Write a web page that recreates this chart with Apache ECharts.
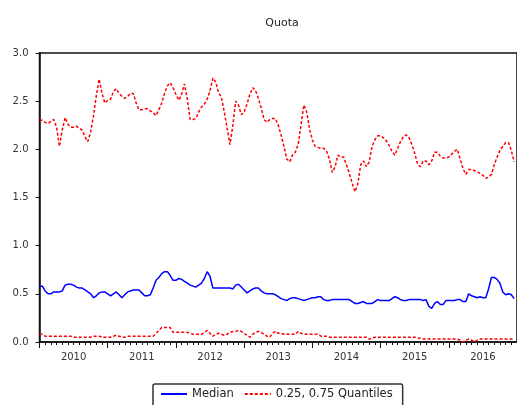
<!DOCTYPE html>
<html>
<head>
<meta charset="utf-8">
<script src="https://cdn.jsdelivr.net/npm/echarts@6/dist/echarts.min.js"></script>
<style>
html,body{margin:0;padding:0;background:#fff;}
#chart{width:517px;height:405px;}
</style>
</head>
<body>
<div id="chart"></div>
<script>
// Semi-monthly observations starting January 2010
const startYear = 2010;
const periodsPerYear = 24;
const yearLabels = ['2010','2011','2012','2013','2014','2015','2016'];
const yTicks = [0.0, 0.5, 1.0, 1.5, 2.0, 2.5, 3.0];

const upperQuantile = [
2.31,2.30,2.28,2.27,2.29,2.31,2.23,2.03,2.20,2.33,2.26,2.23,2.23,2.24,2.22,2.20,2.13,2.08,2.18,2.35,2.56,2.73,2.58,2.48,
2.51,2.52,2.60,2.63,2.58,2.55,2.53,2.55,2.58,2.58,2.48,2.41,2.41,2.42,2.42,2.40,2.38,2.35,2.41,2.48,2.58,2.66,2.69,2.64,
2.57,2.51,2.57,2.68,2.52,2.31,2.31,2.32,2.39,2.44,2.47,2.52,2.61,2.74,2.70,2.59,2.54,2.39,2.22,2.05,2.24,2.50,2.46,2.36,
2.39,2.47,2.57,2.64,2.61,2.53,2.43,2.31,2.28,2.31,2.32,2.32,2.25,2.15,2.03,1.90,1.87,1.94,1.97,2.05,2.25,2.46,2.39,2.21,
2.10,2.03,2.02,2.01,2.01,1.98,1.90,1.76,1.82,1.94,1.92,1.92,1.84,1.75,1.65,1.56,1.64,1.84,1.88,1.82,1.87,2.03,2.10,2.14,
2.14,2.12,2.09,2.04,1.98,1.94,2.01,2.08,2.13,2.15,2.12,2.05,1.96,1.85,1.82,1.88,1.88,1.84,1.88,1.97,1.97,1.93,1.91,1.91,
1.92,1.95,1.98,2.00,1.90,1.80,1.74,1.79,1.79,1.78,1.77,1.75,1.73,1.70,1.71,1.74,1.84,1.92,1.99,2.03,2.07,2.07,1.99,1.87
];

const median = [
0.58,0.58,0.53,0.50,0.50,0.52,0.52,0.52,0.53,0.59,0.60,0.60,0.59,0.57,0.56,0.56,0.54,0.52,0.50,0.46,0.48,0.51,0.52,0.52,
0.50,0.48,0.50,0.52,0.49,0.46,0.49,0.52,0.53,0.54,0.54,0.54,0.51,0.48,0.48,0.49,0.56,0.64,0.67,0.71,0.73,0.73,0.69,0.64,
0.64,0.66,0.65,0.63,0.61,0.59,0.58,0.57,0.59,0.61,0.66,0.73,0.68,0.56,0.56,0.56,0.56,0.56,0.56,0.56,0.55,0.59,0.60,0.57,
0.54,0.51,0.53,0.55,0.56,0.56,0.53,0.51,0.50,0.50,0.50,0.49,0.47,0.45,0.44,0.43,0.45,0.46,0.46,0.45,0.44,0.43,0.44,0.45,
0.46,0.46,0.47,0.47,0.44,0.43,0.43,0.44,0.44,0.44,0.44,0.44,0.44,0.44,0.42,0.40,0.40,0.41,0.42,0.40,0.40,0.40,0.42,0.44,
0.43,0.43,0.43,0.43,0.45,0.47,0.46,0.44,0.43,0.43,0.44,0.44,0.44,0.44,0.44,0.43,0.44,0.37,0.35,0.40,0.42,0.39,0.39,0.43,
0.43,0.43,0.43,0.44,0.44,0.42,0.42,0.50,0.48,0.47,0.46,0.47,0.46,0.46,0.55,0.67,0.67,0.65,0.61,0.52,0.49,0.50,0.49,0.45
];

const lowerQuantile = [
0.08,0.08,0.06,0.06,0.06,0.06,0.06,0.06,0.06,0.06,0.06,0.06,0.05,0.05,0.05,0.05,0.05,0.05,0.05,0.06,0.06,0.06,0.05,0.05,
0.05,0.05,0.06,0.07,0.06,0.05,0.05,0.06,0.06,0.06,0.06,0.06,0.06,0.06,0.06,0.06,0.06,0.09,0.12,0.15,0.15,0.15,0.15,0.10,
0.10,0.10,0.10,0.10,0.10,0.09,0.08,0.08,0.08,0.08,0.10,0.12,0.09,0.06,0.08,0.09,0.08,0.07,0.08,0.10,0.11,0.11,0.12,0.11,
0.09,0.07,0.05,0.08,0.10,0.11,0.10,0.08,0.06,0.05,0.09,0.11,0.09,0.09,0.08,0.08,0.08,0.08,0.08,0.11,0.09,0.08,0.08,0.08,
0.08,0.08,0.08,0.06,0.06,0.06,0.05,0.05,0.05,0.05,0.05,0.05,0.05,0.05,0.05,0.05,0.05,0.05,0.05,0.05,0.03,0.04,0.05,0.05,
0.05,0.05,0.05,0.05,0.05,0.05,0.05,0.05,0.05,0.05,0.05,0.05,0.05,0.04,0.04,0.03,0.03,0.03,0.03,0.03,0.03,0.03,0.03,0.03,
0.03,0.03,0.03,0.03,0.02,0.00,0.02,0.03,0.02,0.00,0.02,0.03,0.03,0.03,0.03,0.03,0.03,0.03,0.03,0.03,0.03,0.03,0.03,0.03
];

function toPairs(arr){
  return arr.map((v, i) => [startYear + i / periodsPerYear, v]);
}

const chart = echarts.init(document.getElementById('chart'), null, {renderer:'canvas'});
const fontFam = 'DejaVu Sans';
const dashed = [3, 2];

chart.setOption({
  animation: false,
  backgroundColor: '#ffffff',
  title: {
    text: 'Quota',
    left: 277,
    top: 13,
    textAlign: 'center',
    textStyle: {fontFamily: fontFam, fontSize: 11, fontWeight: 'normal', color: '#222'}
  },
  legend: {
    data: ['Median', '0.25, 0.75 Quantiles'],
    left: 153,
    top: 384,
    orient: 'horizontal',
    padding: [4, 10, 12, 7],
    itemWidth: 26,
    itemHeight: 12,
    itemGap: 10,
    itemStyle: {opacity: 0},
    borderColor: '#333',
    borderWidth: 1.5,
    borderRadius: 2,
    textStyle: {fontFamily: fontFam, fontSize: 11.5, color: '#222'}
  },
  grid: {
    left: 39.5, top: 53, right: -2, bottom: 63,
    show: true, borderColor: '#111', borderWidth: 1.5
  },
  xAxis: [
    {
      type: 'value',
      min: 2010, max: 2017, interval: 1,
      axisLine: {show: true, onZero: false, lineStyle: {color: '#111', width: 1.5}},
      axisTick: {show: true, length: 6, lineStyle: {color: '#111', width: 1}},
      minorTick: {show: true, splitNumber: 12, length: 3, lineStyle: {color: '#111', width: 1}},
      axisLabel: {show: false},
      splitLine: {show: false}
    },
    {
      type: 'category',
      data: yearLabels,
      boundaryGap: true,
      position: 'bottom',
      axisLine: {show: false},
      axisTick: {show: false},
      axisLabel: {show: true, margin: 10, fontFamily: fontFam, fontSize: 10, color: '#333'},
      splitLine: {show: false}
    }
  ],
  yAxis: {
    type: 'value',
    min: yTicks[0], max: yTicks[yTicks.length - 1], interval: 0.5,
    axisLine: {show: true, lineStyle: {color: '#111', width: 1.5}},
    axisTick: {show: true, length: 4, lineStyle: {color: '#111', width: 1}},
    axisLabel: {margin: 11, fontFamily: fontFam, fontSize: 10, color: '#333', formatter: v => v.toFixed(1)},
    splitLine: {show: false}
  },
  series: [
    {
      name: 'Median', type: 'line', xAxisIndex: 0, showSymbol: false, symbol: 'none',
      data: toPairs(median),
      lineStyle: {color: '#0000ff', width: 1.5},
      itemStyle: {color: '#0000ff'}
    },
    {
      name: '0.25, 0.75 Quantiles', type: 'line', xAxisIndex: 0, showSymbol: false, symbol: 'none',
      data: toPairs(upperQuantile),
      lineStyle: {color: '#ff0000', width: 1.5, type: dashed},
      itemStyle: {color: '#ff0000'}
    },
    {
      name: '0.25, 0.75 Quantiles', type: 'line', xAxisIndex: 0, showSymbol: false, symbol: 'none',
      data: toPairs(lowerQuantile),
      lineStyle: {color: '#ff0000', width: 1.5, type: dashed},
      itemStyle: {color: '#ff0000'}
    }
  ]
});
</script>
</body>
</html>
